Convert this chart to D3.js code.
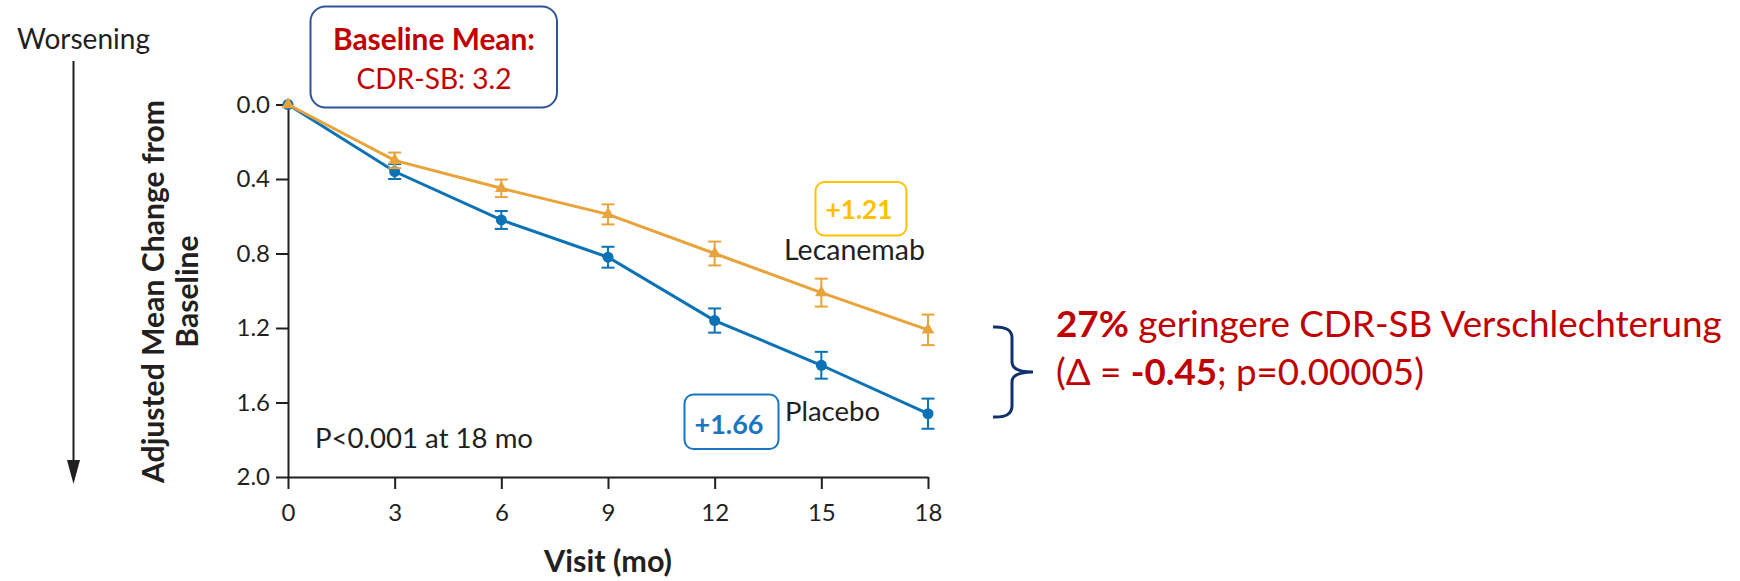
<!DOCTYPE html>
<html>
<head>
<meta charset="utf-8">
<script src="https://cdn.jsdelivr.net/npm/d3@7"></script>
<style>
  body { margin: 0; background: #fff; }
  svg { display: block; }
</style>
</head>
<body>
<svg id="chart" width="1740" height="581"></svg>
<script>
// Visit months and adjusted mean change from baseline in CDR-SB
const months = [0, 3, 6, 9, 12, 15, 18];
const lecanemab = [0, 0.30, 0.45, 0.59, 0.80, 1.01, 1.21];
const placebo = [0, 0.36, 0.62, 0.82, 1.16, 1.40, 1.66];
// Standard errors shown as error bars
const lecanemabErr = [0, 0.042, 0.047, 0.054, 0.064, 0.075, 0.082];
const placeboErr = [0, 0.040, 0.048, 0.056, 0.065, 0.072, 0.081];
const yTicks = [0, 0.4, 0.8, 1.2, 1.6, 2.0];
const xTicks = [0, 3, 6, 9, 12, 15, 18];

const seriesNames = ["Lecanemab", "Placebo"];
const endLabels = ["+1.21", "+1.66"];

const COL_LEC = "#E8A33B";
const COL_PLA = "#0B72B6";
const COL_RED = "#C00000";
const INK = "#231F20";

const FONT_CHART = "Lato, 'Open Sans', sans-serif";
const FONT_NOTE = "Lato, 'Open Sans', sans-serif";

const svg = d3.select("#chart");

// scale a text's font size so its rendered width equals w
function fit(t, w) {
  const fs = parseFloat(t.attr("font-size"));
  const len = t.node().getComputedTextLength();
  t.attr("font-size", (fs * w / len).toFixed(2));
  return t;
}

const x = d3.scaleLinear().domain([0, 18]).range([288, 928]);
const y = d3.scaleLinear().domain([0, 2]).range([104.5, 477]);

// axes
const yAxis = svg.append("g")
  .attr("transform", `translate(${x(0)},0)`)
  .call(d3.axisLeft(y).tickValues(yTicks).tickFormat(d3.format(".1f"))
    .tickSize(12).tickSizeOuter(0).tickPadding(6));
const xAxis = svg.append("g")
  .attr("transform", `translate(0,${y(2)})`)
  .call(d3.axisBottom(x).tickValues(xTicks).tickFormat(d3.format("d"))
    .tickSize(12).tickSizeOuter(0).tickPadding(15));

[yAxis, xAxis].forEach(g => {
  g.select(".domain").attr("stroke", INK).attr("stroke-width", 2);
  g.selectAll(".tick line").attr("stroke", INK).attr("stroke-width", 2);
  g.selectAll(".tick text").attr("fill", INK)
    .attr("font-family", FONT_CHART).attr("font-size", 24);
});

// y-axis title (two lines, rotated)
const yTitle = svg.append("text")
  .attr("transform", `translate(164,291.5) rotate(-90)`)
  .attr("text-anchor", "middle")
  .attr("font-family", FONT_NOTE).attr("font-weight", 700)
  .attr("font-size", 24).attr("fill", INK)
  .text("Adjusted Mean Change from");
fit(yTitle, 383);
svg.append("text")
  .attr("transform", `translate(198,291.5) rotate(-90)`)
  .attr("text-anchor", "middle")
  .attr("font-family", FONT_NOTE).attr("font-weight", 700)
  .attr("font-size", yTitle.attr("font-size")).attr("fill", INK)
  .text("Baseline");

// x-axis title
fit(svg.append("text")
  .attr("x", 608).attr("y", 572)
  .attr("text-anchor", "middle")
  .attr("font-family", FONT_NOTE).attr("font-weight", 700)
  .attr("font-size", 24).attr("fill", INK)
  .text("Visit (mo)"), 128);

// "Worsening" direction arrow
fit(svg.append("text")
  .attr("x", 17).attr("y", 49)
  .attr("font-family", FONT_CHART).attr("font-size", 21).attr("fill", INK)
  .text("Worsening"), 133);
svg.append("line")
  .attr("x1", 73.5).attr("x2", 73.5).attr("y1", 61).attr("y2", 462)
  .attr("stroke", INK).attr("stroke-width", 2);
svg.append("path")
  .attr("d", "M67,460 L80,460 L73.5,484 Z")
  .attr("fill", INK);

// series lines, error bars and markers
const series = [
  { name: seriesNames[1], vals: placebo, err: placeboErr, color: COL_PLA, sym: d3.symbolCircle, size: 95 },
  { name: seriesNames[0], vals: lecanemab, err: lecanemabErr, color: COL_LEC, sym: d3.symbolTriangle, size: 70 }
];
const line = d3.line().x((d, i) => x(months[i])).y(d => y(d));
const capHalf = 6.5;

series.forEach(s => {
  const g = svg.append("g");
  g.append("path").datum(s.vals)
    .attr("d", line).attr("fill", "none")
    .attr("stroke", s.color).attr("stroke-width", 3);
  const eb = g.selectAll(".eb").data(s.vals.map((v, i) => ({ m: months[i], v, e: s.err[i] })).filter(d => d.e > 0))
    .join("g").attr("stroke", s.color).attr("stroke-width", 2);
  eb.append("line").attr("x1", d => x(d.m)).attr("x2", d => x(d.m))
    .attr("y1", d => y(d.v - d.e)).attr("y2", d => y(d.v + d.e));
  eb.append("line").attr("x1", d => x(d.m) - capHalf).attr("x2", d => x(d.m) + capHalf)
    .attr("y1", d => y(d.v - d.e)).attr("y2", d => y(d.v - d.e));
  eb.append("line").attr("x1", d => x(d.m) - capHalf).attr("x2", d => x(d.m) + capHalf)
    .attr("y1", d => y(d.v + d.e)).attr("y2", d => y(d.v + d.e));
  g.selectAll(".mk").data(s.vals).join("path")
    .attr("transform", (d, i) => `translate(${x(months[i])},${y(d)})`)
    .attr("d", d3.symbol().type(s.sym).size(s.size))
    .attr("fill", s.color);
});

// series labels
fit(svg.append("text").attr("x", 784).attr("y", 260)
  .attr("font-family", FONT_CHART).attr("font-size", 22).attr("fill", INK)
  .text(seriesNames[0]), 141);
fit(svg.append("text").attr("x", 785).attr("y", 421)
  .attr("font-family", FONT_CHART).attr("font-size", 22).attr("fill", INK)
  .text(seriesNames[1]), 95);
fit(svg.append("text").attr("x", 315).attr("y", 448)
  .attr("font-family", FONT_CHART).attr("font-size", 22).attr("fill", INK)
  .text("P<0.001 at 18 mo"), 218);

// end-of-study change boxes
function valueBox(x0, y0, w, h, color, label, textX, textY, textW) {
  svg.append("rect").attr("x", x0).attr("y", y0).attr("width", w).attr("height", h)
    .attr("rx", 9).attr("fill", "#fff").attr("stroke", color).attr("stroke-width", 2);
  fit(svg.append("text").attr("x", textX).attr("y", textY)
    .attr("text-anchor", "middle")
    .attr("font-family", FONT_NOTE).attr("font-weight", 700)
    .attr("font-size", 24).attr("fill", color).text(label), textW);
}
valueBox(815.5, 182, 91, 53.5, "#FFC000", endLabels[0], 859, 219, 67);
valueBox(684.5, 394.5, 94, 54.5, "#1A75C2", endLabels[1], 729, 434, 69);

// baseline box
svg.append("rect").attr("x", 310.5).attr("y", 6.5).attr("width", 246.5).attr("height", 101)
  .attr("rx", 15).attr("fill", "#fff").attr("stroke", "#2F5597").attr("stroke-width", 2);
fit(svg.append("text").attr("x", 434).attr("y", 50)
  .attr("text-anchor", "middle").attr("font-family", FONT_NOTE).attr("font-weight", 700)
  .attr("font-size", 24).attr("fill", COL_RED).text("Baseline Mean:"), 202);
fit(svg.append("text").attr("x", 434).attr("y", 89)
  .attr("text-anchor", "middle").attr("font-family", FONT_NOTE)
  .attr("font-size", 24).attr("fill", COL_RED).text("CDR-SB: 3.2"), 155);

// curly bracket spanning the gap at 18 months
svg.append("path")
  .attr("d", "M993,327 Q1012,326 1012,338 L1012,362 Q1012,372 1033,372 Q1012,372 1012,382 L1012,406 Q1012,418 993,417")
  .attr("fill", "none").attr("stroke", "#10306E").attr("stroke-width", 3);

// difference annotation
const note1 = svg.append("text").attr("x", 1056).attr("y", 337)
  .attr("font-family", FONT_NOTE).attr("font-size", 30).attr("fill", COL_RED);
note1.append("tspan").attr("font-weight", 700).text("27%");
note1.append("tspan").text(" geringere CDR-SB Verschlechterung");
fit(note1, 666);
const note2 = svg.append("text").attr("x", 1056).attr("y", 385)
  .attr("font-family", FONT_NOTE).attr("font-size", note1.attr("font-size")).attr("fill", COL_RED);
note2.append("tspan").text("(\u0394 = ");
note2.append("tspan").attr("font-weight", 700).text("-0.45");
note2.append("tspan").text("; p=0.00005)");
fit(note2, 368);
</script>
</body>
</html>
